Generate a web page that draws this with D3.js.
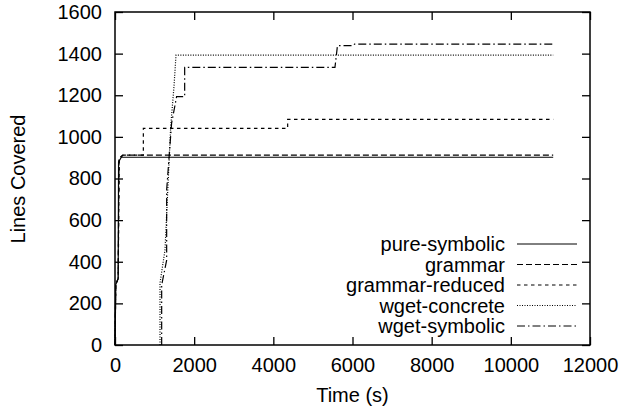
<!DOCTYPE html>
<html>
<head>
<meta charset="utf-8">
<script src="https://cdn.jsdelivr.net/npm/d3@7"></script>
<style>
	body { margin: 0; background: #fff; }
	text { font-family: "Liberation Sans", Arial, Helvetica, sans-serif; }
</style>
</head>
<body>
<div id="chart"></div>
<script>
// time (s) / lines covered
var pureSymbolicTime  = [0, 20, 80, 90, 160, 11070];
var pureSymbolicLines = [0, 290, 320, 880, 902, 902];

var grammarTime  = [0, 20, 80, 100, 200, 11070];
var grammarLines = [0, 290, 320, 895, 912, 912];

var grammarReducedTime  = [0, 20, 80, 110, 200, 716, 716, 4362, 4362, 11070];
var grammarReducedLines = [0, 290, 320, 900, 912, 912, 1041, 1041, 1084, 1084];

var wgetConcreteTime  = [1137, 1137, 1263, 1407, 1490, 1541, 11070];
var wgetConcreteLines = [0, 298, 456, 1049, 1241, 1393, 1393];

var wgetSymbolicTime  = [1179, 1179, 1305, 1305, 1430, 1556, 1760, 1760, 5557, 5620, 6012, 6050, 11070];
var wgetSymbolicLines = [0, 288, 408, 745, 1066, 1193, 1193, 1334, 1334, 1438, 1438, 1446, 1446];

var seriesNames = ["pure-symbolic", "grammar", "grammar-reduced", "wget-concrete", "wget-symbolic"];
var xTicks = [0, 2000, 4000, 6000, 8000, 10000, 12000];
var yTicks = [0, 200, 400, 600, 800, 1000, 1200, 1400, 1600];

(function(){
	var width = 635, height = 414;
	var left = 115, right = 590, top = 12, bottom = 345;

	var svg = d3.select('#chart').append('svg')
		.attr('width', width)
		.attr('height', height);

	var x = d3.scaleLinear().domain([0, 12000]).range([left, right]);
	var y = d3.scaleLinear().domain([0, 1600]).range([bottom, top]);

	var styles = [
		{dash: null},
		{dash: "6,3"},
		{dash: "3.5,3.5"},
		{dash: "1,1.5"},
		{dash: "8,3,1.5,3"}
	];

	var series = [
		[pureSymbolicTime, pureSymbolicLines],
		[grammarTime, grammarLines],
		[grammarReducedTime, grammarReducedLines],
		[wgetConcreteTime, wgetConcreteLines],
		[wgetSymbolicTime, wgetSymbolicLines]
	].map(function(s){
		return s[0].map(function(t, i){ return [t, s[1][i]]; });
	});

	var line = d3.line()
		.x(function(d){ return x(d[0]); })
		.y(function(d){ return y(d[1]); });

	svg.append('g').selectAll('path')
		.data(series)
		.enter()
		.append('path')
		.attr('d', line)
		.attr('fill', 'none')
		.attr('stroke', '#000')
		.attr('stroke-width', 1.2)
		.attr('stroke-dasharray', function(d, i){ return styles[i].dash; });

	// axes, ticks pointing inward
	var fs = "20px";
	var fmt = d3.format('d');
	svg.append('g').attr('transform', 'translate(0,' + bottom + ')')
		.call(d3.axisBottom(x).tickValues(xTicks).tickSize(-8).tickSizeOuter(0).tickPadding(13).tickFormat(fmt));
	svg.append('g').attr('transform', 'translate(0,' + top + ')')
		.call(d3.axisTop(x).tickValues(xTicks).tickSize(-8).tickSizeOuter(0).tickFormat(''));
	svg.append('g').attr('transform', 'translate(' + left + ',0)')
		.call(d3.axisLeft(y).tickValues(yTicks).tickSize(-8).tickSizeOuter(0).tickPadding(13).tickFormat(fmt));
	svg.append('g').attr('transform', 'translate(' + right + ',0)')
		.call(d3.axisRight(y).tickValues(yTicks).tickSize(-8).tickSizeOuter(0).tickFormat(''));

	svg.selectAll('.domain').remove();
	svg.selectAll('.tick line').attr('stroke', '#000').attr('stroke-width', 1.3);
	svg.selectAll('.tick text')
		.attr('fill', '#000')
		.style('font-size', fs)
		.style('font-family', '"Liberation Sans", Arial, sans-serif');

	svg.append('rect')
		.attr('x', left).attr('y', top)
		.attr('width', right - left).attr('height', bottom - top)
		.attr('fill', 'none')
		.attr('stroke', '#000')
		.attr('stroke-width', 1.5);

	svg.append('text')
		.attr('x', (left + right) / 2)
		.attr('y', 402)
		.attr('text-anchor', 'middle')
		.style('font-size', fs)
		.text('Time (s)');

	svg.append('text')
		.attr('transform', 'translate(25,179) rotate(-90)')
		.attr('text-anchor', 'middle')
		.style('font-size', fs)
		.text('Lines Covered');

	// legend
	var legend = svg.append('g').selectAll('g')
		.data(seriesNames)
		.enter()
		.append('g')
		.attr('transform', function(d, i){ return 'translate(0,' + (244 + i * 20.5) + ')'; });

	legend.append('text')
		.attr('x', 505)
		.attr('dy', '0.35em')
		.attr('text-anchor', 'end')
		.style('font-size', fs)
		.text(function(d){ return d; });

	legend.append('line')
		.attr('x1', 517).attr('x2', 577)
		.attr('y1', 0).attr('y2', 0)
		.attr('stroke', '#000')
		.attr('stroke-width', 1)
		.attr('stroke-dasharray', function(d, i){ return styles[i].dash; });
})();
</script>
</body>
</html>
